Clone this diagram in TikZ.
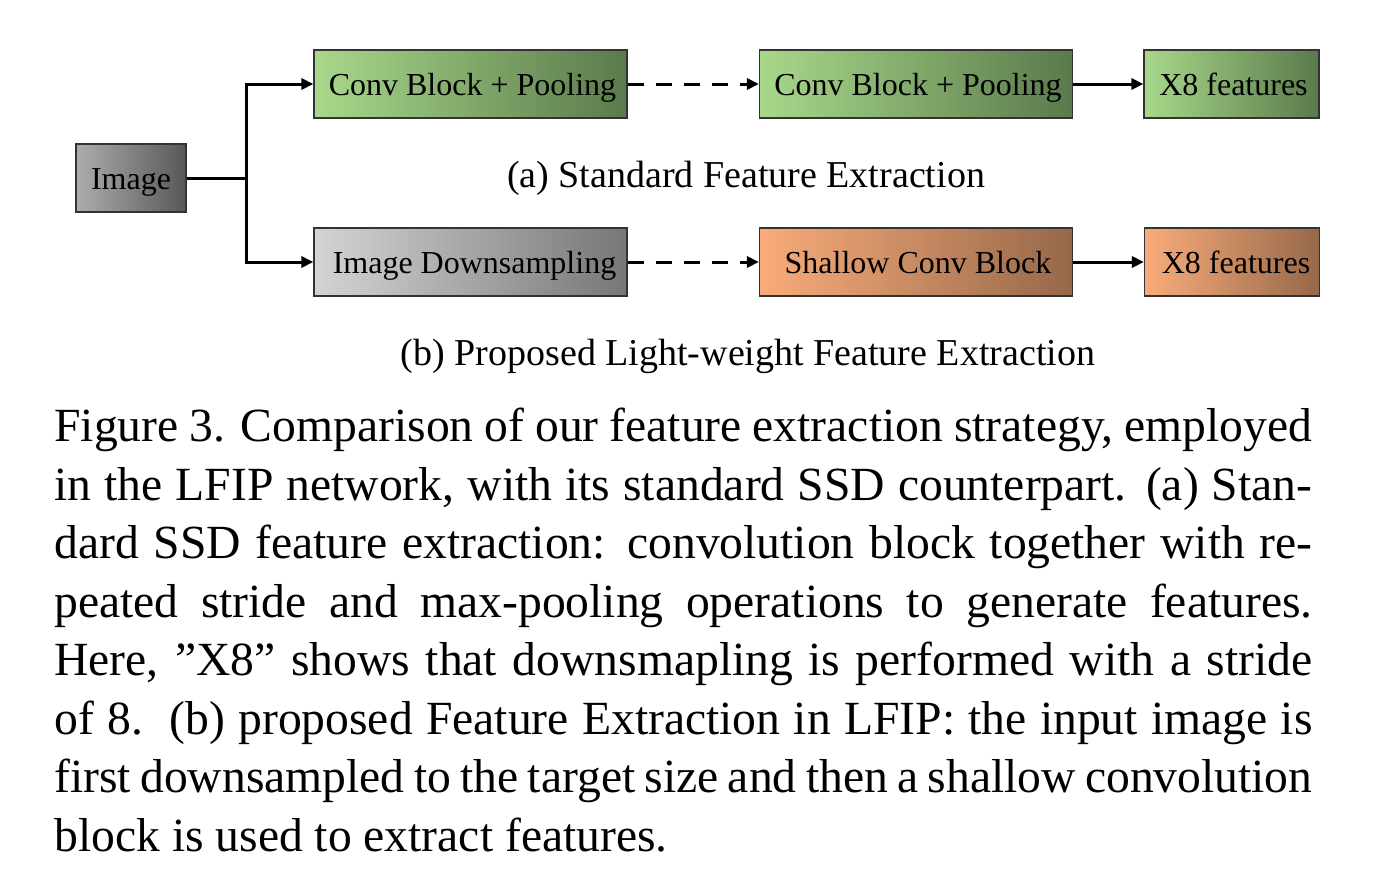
\documentclass[tikz,border=0pt]{standalone}
\usepackage{fontspec}
\setmainfont{Liberation Serif}
\usetikzlibrary{arrows.meta}
\definecolor{grayL}{HTML}{ADADAD}
\definecolor{grayR}{HTML}{585858}
\definecolor{dsL}{HTML}{D4D4D4}
\definecolor{dsR}{HTML}{777777}
\definecolor{grnL}{HTML}{A8D88A}
\definecolor{grnR}{HTML}{5B7A4C}
\definecolor{orgL}{HTML}{F9AC7A}
\definecolor{orgR}{HTML}{96684A}
\newcommand{\capline}[1]{\makebox[629pt][s]{#1}}
\begin{document}
\begin{tikzpicture}[x=0.5pt,y=-0.5pt,
  box/.style={draw=black!80, line width=0.6pt, minimum height=34pt, inner sep=0pt,
    text height=12pt, text depth=1pt, font=\fontsize{16}{19}\selectfont},
  wide/.style={box, minimum width=156.5pt},
  narrow/.style={box, minimum width=87.5pt},
  grnbox/.style={left color=grnL, right color=grnR},
  orgbox/.style={left color=orgL, right color=orgR},
  conn/.style={line width=1.5pt, -{Triangle[length=6pt,width=5.5pt]}},
  dconn/.style={conn, dash pattern=on 8pt off 6pt},
  subcap/.style={font=\fontsize{19}{22}\selectfont, inner sep=0pt, anchor=base},
  captxt/.style={font=\fontsize{23.8}{29.3}\selectfont, inner sep=0pt, anchor=base west}]
\useasboundingbox (0,0) rectangle (1374,884);
% nodes
\node[box, minimum width=55pt, left color=grayL, right color=grayR] (img) at (131,178) {Image};
\node[wide, grnbox] (c1) at (470.5,84) {\hspace{2pt}Conv Block + Pooling};
\node[wide, grnbox] (c2) at (916,84) {\hspace{2pt}Conv Block + Pooling};
\node[narrow, grnbox] (f1) at (1231.5,84) {\hspace{2pt}X8 features};
\node[wide, left color=dsL, right color=dsR] (ds) at (470.5,262) {\hspace{4pt}Image Downsampling};
\node[wide, orgbox] (sc) at (916,262) {\hspace{2pt}Shallow Conv Block};
\node[narrow, orgbox] (f2) at (1232,262) {\hspace{4pt}X8 features};
\node[subcap] (la) at (746,187) {(a) Standard Feature Extraction};
\node[subcap] (lb) at (748,365) {(b) Proposed Light-weight Feature Extraction};
% connectors
\coordinate (br) at (246,178);
\draw[line width=1.5pt] (img.east) -- (br);
\draw[conn] (br) |- (c1.west);
\draw[conn] (br) |- (ds.west);
\draw[dconn] (c1.east) -- (c2.west);
\draw[conn] (c2.east) -- (f1.west);
\draw[dconn] (ds.east) -- (sc.west);
\draw[conn] (sc.east) -- (f2.west);
% caption
\node[captxt] (l1) at (54,441) {\capline{Figure 3. Comparison of our feature extraction strategy, employed}};
\node[captxt] (l2) at (54,500) {\capline{in the LFIP network, with its standard SSD counterpart. (a) Stan-}};
\node[captxt] (l3) at (54,558) {\capline{dard SSD feature extraction: convolution block together with re-}};
\node[captxt] (l4) at (54,617) {\capline{peated stride and max-pooling operations to generate features.}};
\node[captxt] (l5) at (54,675) {\capline{Here, ”X8” shows that downsmapling is performed with a stride}};
\node[captxt] (l6) at (54,734) {\capline{of 8.\ \ (b) proposed Feature Extraction in LFIP: the input image is}};
\node[captxt] (l7) at (54,792) {\capline{first downsampled to the target size and then a shallow convolution}};
\node[captxt] (l8) at (54,851) {block is used to extract features.};
\end{tikzpicture}
\end{document}
